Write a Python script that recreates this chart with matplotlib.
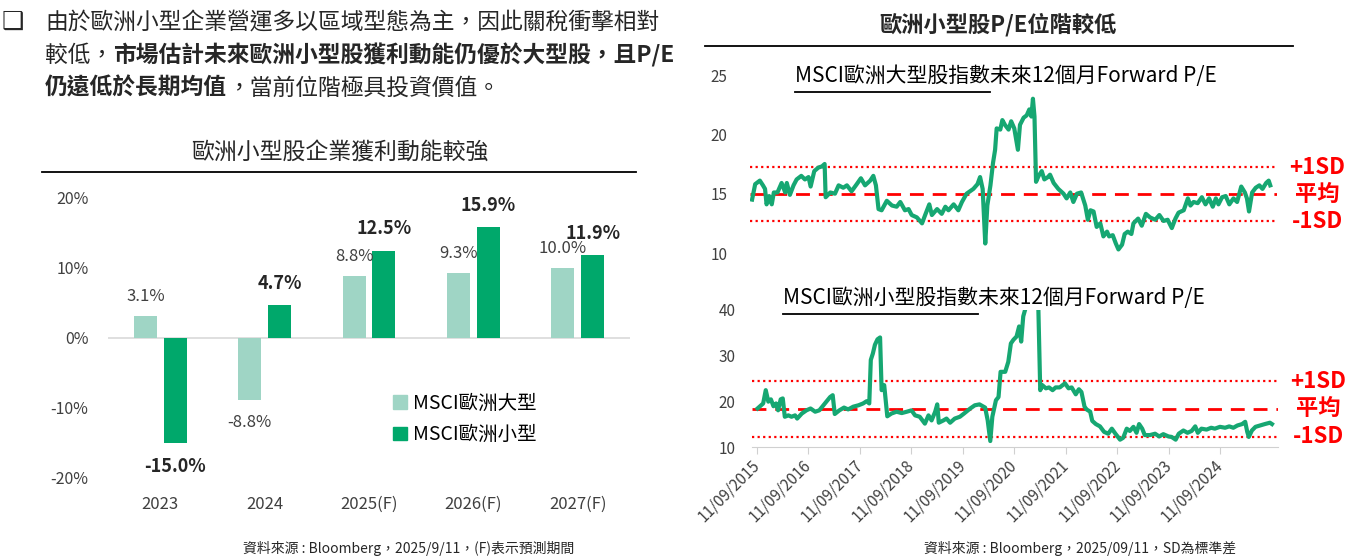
import matplotlib

matplotlib.use("Agg")
import matplotlib.pyplot as plt
from matplotlib.lines import Line2D
from matplotlib.patches import Patch
import matplotlib.transforms as mtransforms
import numpy as np

plt.rcParams["font.family"] = ["Noto Sans CJK TC", "DejaVu Sans"]

W, H = 1351, 559

# ---- left: earnings growth bars ----
years = ["2023", "2024", "2025(F)", "2026(F)", "2027(F)"]
large_growth = [3.1, -8.8, 8.8, 9.3, 10.0]
small_growth = [-15.0, 4.7, 12.5, 15.9, 11.9]
bar_ticks = [-20, -10, 0, 10, 20]

# ---- right: forward P/E (decimal years) ----
lg_t = [2015.69, 2015.75, 2015.84, 2015.90, 2015.94, 2015.97, 2016.02, 2016.07, 2016.11, 2016.18,
        2016.26, 2016.33, 2016.36, 2016.42, 2016.49, 2016.55, 2016.64, 2016.71, 2016.78, 2016.82,
        2016.89, 2016.97, 2017.04, 2017.09, 2017.11, 2017.20, 2017.29, 2017.36, 2017.45, 2017.52,
        2017.61, 2017.71, 2017.79, 2017.87, 2017.97, 2018.03, 2018.08, 2018.13, 2018.19, 2018.29,
        2018.39, 2018.48, 2018.55, 2018.64, 2018.71, 2018.77, 2018.87, 2018.97, 2019.03, 2019.11,
        2019.16, 2019.26, 2019.35, 2019.42, 2019.48, 2019.58, 2019.67, 2019.74, 2019.83, 2019.96,
        2020.04, 2020.09, 2020.14, 2020.19, 2020.23, 2020.29, 2020.34, 2020.38, 2020.41, 2020.48,
        2020.52,
        2020.57, 2020.64, 2020.69, 2020.75, 2020.82, 2020.86, 2020.93, 2020.99, 2021.04, 2021.08,
        2021.11, 2021.14, 2021.17, 2021.22, 2021.28, 2021.33, 2021.40, 2021.44, 2021.51, 2021.60,
        2021.70, 2021.76, 2021.83, 2021.89, 2021.96, 2022.04, 2022.12, 2022.17, 2022.22, 2022.28,
        2022.34, 2022.41, 2022.47, 2022.54, 2022.58, 2022.65, 2022.71, 2022.76, 2022.83, 2022.88,
        2022.94, 2023.01, 2023.05, 2023.14, 2023.21, 2023.29, 2023.37, 2023.47, 2023.55, 2023.63,
        2023.71, 2023.79, 2023.86, 2023.92, 2024.02, 2024.10, 2024.15, 2024.21, 2024.29, 2024.37,
        2024.44, 2024.51, 2024.58, 2024.64, 2024.69, 2024.76, 2024.83, 2024.90, 2024.98, 2025.05,
        2025.13, 2025.20, 2025.24, 2025.28, 2025.34, 2025.41, 2025.48, 2025.54, 2025.61, 2025.66,
        2025.69]
lg_pe = [14.5, 15.8, 16.1, 15.7, 15.4, 14.1, 14.8, 14.1, 15.1, 15.1,
         15.9, 15.1, 15.9, 14.9, 15.7, 16.2, 16.5, 16.2, 16.4, 15.6,
         16.9, 17.2, 17.3, 17.5, 14.7, 15.1, 15.0, 15.7, 15.5, 15.7,
         15.2, 15.8, 16.3, 15.7, 16.1, 16.5, 15.7, 13.7, 13.6, 14.4,
         14.0, 13.9, 14.3, 13.6, 13.7, 13.2, 13.0, 12.5, 13.2, 14.1,
         13.2, 13.7, 13.3, 13.9, 13.6, 14.1, 13.6, 14.3, 15.0, 15.4,
         15.8, 16.4, 15.4, 10.8, 14.0, 15.7, 17.6, 18.7, 20.5, 20.4,
         21.2,
         20.8, 20.4, 21.1, 20.5, 18.7, 20.8, 21.4, 21.6, 22.1, 21.5,
         23.0, 21.5, 16.0, 16.5, 16.9, 16.2, 16.4, 16.6, 15.9, 15.4,
         15.0, 14.6, 15.1, 14.3, 15.0, 15.1, 14.0, 12.8, 13.6, 13.5,
         12.2, 12.5, 11.4, 11.8, 11.4, 11.5, 10.8, 10.3, 10.7, 11.6,
         11.8, 11.6, 12.5, 12.9, 12.3, 13.3, 13.0, 12.8, 13.2, 12.7,
         12.8, 12.1, 12.9, 13.4, 13.6, 14.6, 14.0, 14.3, 14.2, 14.7,
         14.1, 14.6, 13.9, 14.6, 14.1, 14.7, 14.8, 14.1, 14.6, 14.3,
         15.6, 15.1, 14.6, 13.5, 15.1, 15.5, 15.7, 15.4, 15.9, 16.1,
         15.7]
lg_mean, lg_sd = 14.95, 2.28

sm_t = [2015.70, 2015.75, 2015.81, 2015.86, 2015.91, 2015.96, 2016.01, 2016.06, 2016.10, 2016.15,
        2016.19, 2016.23, 2016.30, 2016.36, 2016.43, 2016.47, 2016.56, 2016.65, 2016.73, 2016.82,
        2016.90, 2016.98, 2017.06, 2017.11, 2017.16, 2017.20, 2017.29, 2017.38, 2017.46, 2017.56,
        2017.66, 2017.75, 2017.82, 2017.87, 2017.90, 2017.94, 2017.98, 2018.03, 2018.08, 2018.11,
        2018.16, 2018.19, 2018.22, 2018.30, 2018.40, 2018.50, 2018.60, 2018.69, 2018.76, 2018.85,
        2018.95, 2019.02, 2019.08, 2019.15, 2019.19, 2019.22, 2019.31, 2019.37, 2019.44, 2019.53,
        2019.63, 2019.71, 2019.83, 2019.92, 2020.01, 2020.12, 2020.17, 2020.22, 2020.26, 2020.33,
        2020.38, 2020.42,
        2020.51, 2020.57, 2020.62, 2020.67, 2020.73, 2020.78, 2020.82, 2020.86, 2020.91, 2020.96,
        2021.03, 2021.10, 2021.15, 2021.19, 2021.23, 2021.30, 2021.36, 2021.43, 2021.49, 2021.57,
        2021.67, 2021.74, 2021.80, 2021.88, 2021.94, 2021.99, 2022.05, 2022.09, 2022.16, 2022.20,
        2022.27, 2022.35, 2022.43, 2022.51, 2022.58, 2022.65, 2022.74, 2022.80, 2022.87, 2022.93,
        2023.00, 2023.06, 2023.11, 2023.17, 2023.22, 2023.32, 2023.42, 2023.50, 2023.58, 2023.68,
        2023.74, 2023.82, 2023.88, 2023.97, 2024.05, 2024.13, 2024.20, 2024.25, 2024.32, 2024.42,
        2024.51, 2024.58, 2024.68, 2024.78, 2024.86, 2024.94, 2025.02, 2025.11, 2025.17, 2025.21,
        2025.24, 2025.30, 2025.37, 2025.46, 2025.55, 2025.65, 2025.69]
sm_pe = [18.4, 18.9, 19.5, 22.4, 19.9, 20.4, 18.9, 19.5, 18.0, 20.4,
         20.6, 16.6, 16.9, 16.6, 16.9, 16.2, 17.3, 18.0, 18.4, 17.7,
         18.0, 19.1, 20.2, 20.9, 21.3, 17.2, 18.0, 18.6, 18.2, 18.8,
         19.1, 19.5, 20.0, 19.5, 29.0, 30.4, 32.3, 33.5, 33.9, 22.4,
         23.5, 20.2, 16.7, 17.3, 17.7, 17.4, 17.7, 18.0, 16.9, 16.6,
         15.1, 16.9, 15.8, 17.7, 19.3, 15.3, 15.8, 16.2, 15.3, 16.2,
         16.6, 17.3, 18.4, 19.1, 19.3, 18.6, 15.8, 11.3, 16.6, 20.2,
         20.9, 26.4,
         26.4, 28.6, 32.6, 33.4, 34.1, 36.3, 33.0, 38.5, 40.5, 43.0,
         45.0, 44.0, 42.0, 22.4, 23.5, 22.8, 23.0, 22.4, 23.0, 23.0,
         23.9, 22.8, 23.0, 21.5, 22.6, 22.0, 18.8, 18.2, 17.7, 15.7,
         15.0, 14.5, 13.3, 12.9, 14.0, 12.9, 11.6, 12.0, 14.0, 13.5,
         14.4, 13.1, 15.0, 14.0, 12.6, 12.6, 12.9, 12.3, 12.8, 12.3,
         12.2, 11.6, 12.9, 13.6, 13.1, 13.5, 14.5, 13.1, 14.0, 13.8,
         14.2, 14.0, 14.4, 14.2, 14.5, 14.2, 14.7, 15.0, 15.5, 13.3,
         12.2, 13.6, 14.4, 14.7, 15.0, 15.3, 15.0]
sm_mean, sm_sd = 18.3, 6.1

tick_years = list(range(2015, 2025))
DATE_FRAC = 0.69  # 11 Sep as a fraction of the year

LIGHT = "#9fd5c5"
DARK = "#00a86b"
LINE = "#16a772"
RED = "#ff0000"
TXT = "#262626"
GREY = "#404040"


def fx(x):
    return x / W


def fy(y):
    return 1 - y / H


def hline(fig, x0, x1, y, lw=1.3):
    fig.add_artist(Line2D([fx(x0), fx(x1)], [fy(y), fy(y)], color="black", lw=lw))


def put_runs(fig, x, y, runs, size):
    r = fig.canvas.get_renderer()
    for s, w in runs:
        t = fig.text(fx(x), fy(y), s, fontsize=size, fontweight=w, color=TXT,
                     ha="left", va="center")
        x += t.get_window_extent(r).width


fig = plt.figure(figsize=(W / 100, H / 100), dpi=100)

# ---- paragraph ----
fig.text(fx(13), fy(22), "❑", fontsize=18, color=TXT, ha="center", va="center",
         family=["DejaVu Sans"])
put_runs(fig, 45, 22, [("由於歐洲小型企業營運多以區域型態為主，因此關稅衝擊相對", "normal")], 16.4)
put_runs(fig, 45, 55, [("較低，", "normal"),
                       ("市場估計未來歐洲小型股獲利動能仍優於大型股，且P/E", "bold")], 16.4)
put_runs(fig, 45, 88, [("仍遠低於長期均值", "bold"), ("，當前位階極具投資價值。", "normal")], 16.4)

# ---- bar chart ----
fig.text(fx(340), fy(152), "歐洲小型股企業獲利動能較強", fontsize=16.5, color=TXT,
         ha="center", va="center")
hline(fig, 42, 636, 172)

axb = fig.add_axes([fx(108), fy(478), fx(630) - fx(108), fy(198) - fy(478)])
x = np.arange(len(years))
bw, off = 0.22, 0.142
axb.bar(x - off, large_growth, bw, color=LIGHT, zorder=2)
axb.bar(x + off, small_growth, bw, color=DARK, zorder=2)
axb.axhline(0, color="#d9d9d9", lw=1.2, zorder=1)
axb.set_xlim(-0.5, len(years) - 0.5)
axb.set_ylim(-20, 20)
axb.set_yticks(bar_ticks)
axb.set_yticklabels([f"{v}%" for v in bar_ticks])
axb.set_xticks(x)
axb.set_xticklabels(years)
axb.tick_params(axis="y", length=0, pad=14, labelsize=11.5, labelcolor=GREY)
axb.tick_params(axis="x", length=0, pad=13, labelsize=12, labelcolor=GREY)
for s in axb.spines.values():
    s.set_visible(False)
for xi, v in zip(x - off, large_growth):
    axb.annotate(f"{v:.1f}%", (xi, v), xytext=(0, 14 if v > 0 else -16.5),
                 textcoords="offset points", ha="center", va="center",
                 fontsize=12, color=GREY)
for xi, v in zip(x + off, small_growth):
    axb.annotate(f"{v:.1f}%", (xi, v), xytext=(0, 15.5 if v > 0 else -17),
                 textcoords="offset points", ha="center", va="center",
                 fontsize=13, fontweight="bold", color=TXT)
axb.legend([Patch(color=LIGHT), Patch(color=DARK)], ["MSCI歐洲大型", "MSCI歐洲小型"],
           loc="center left", bbox_to_anchor=(fx(393), fy(419)),
           bbox_transform=fig.transFigure, frameon=False, fontsize=14,
           handlelength=0.7, handleheight=0.7, handletextpad=0.35,
           labelspacing=0.55, borderpad=0, borderaxespad=0)

fig.text(fx(409), fy(548), "資料來源 : Bloomberg，2025/9/11，(F)表示預測期間",
         fontsize=10, color=TXT, ha="center", va="center")

# ---- right side ----
fig.text(fx(998), fy(25), "歐洲小型股P/E位階較低", fontsize=16, fontweight="bold",
         color=TXT, ha="center", va="center")
hline(fig, 705, 1293, 46)


def pe_panel(rect, t, pe, mean, sd, ylim, yticks, xlim, pad):
    ax = fig.add_axes(rect)
    ax.plot(t, pe, color=LINE, lw=3, solid_joinstyle="round", zorder=3)
    ax.axhline(mean, color=RED, lw=2, ls=(0, (5, 3.2)), zorder=2)
    for lvl in (mean + sd, mean - sd):
        ax.axhline(lvl, color=RED, lw=1.6, ls=(0, (1, 1.5)), zorder=2)
    ax.set_xlim(*xlim)
    ax.set_ylim(*ylim)
    ax.set_yticks(yticks)
    ax.tick_params(axis="y", length=0, pad=pad, labelsize=11, labelcolor=GREY)
    for s in ax.spines.values():
        s.set_visible(False)
    tr = mtransforms.blended_transform_factory(ax.transAxes, ax.transData)
    for lvl, lab in ((mean + sd, "+1SD"), (mean, "平均"), (mean - sd, "-1SD")):
        ax.text(1.077, lvl, lab, transform=tr, color=RED, fontsize=16,
                fontweight="bold", ha="center", va="center")
    return ax


axt = pe_panel([fx(750), fy(253), fx(1277) - fx(750), fy(75) - fy(253)],
               lg_t, lg_pe, lg_mean, lg_sd, (10, 25), [10, 15, 20, 25],
               (2015.65, 2025.82), 16)
axt.set_xticks([])

axs = pe_panel([fx(752), fy(447), fx(1278) - fx(752), fy(309.5) - fy(447)],
               sm_t, sm_pe, sm_mean, sm_sd, (10, 40), [10, 20, 30, 40],
               (2015.593, 2025.807), 12)
axs.spines["bottom"].set_visible(True)
axs.spines["bottom"].set_color("#d0d0d0")
axs.set_xticks([yr + DATE_FRAC for yr in tick_years])
axs.set_xticklabels([f"11/09/{yr}" for yr in tick_years], rotation=45, ha="right",
                    va="center", rotation_mode="anchor")
axs.tick_params(axis="x", length=5, color="#d0d0d0", pad=6, labelsize=11,
                labelcolor=GREY)

fig.text(fx(795), fy(76), "MSCI歐洲大型股指數未來12個月Forward P/E", fontsize=15,
         color="black", ha="left", va="center")
hline(fig, 795, 990, 92)
fig.text(fx(783), fy(298), "MSCI歐洲小型股指數未來12個月Forward P/E", fontsize=15,
         color="black", ha="left", va="center")
hline(fig, 783, 978, 314)

fig.text(fx(1080), fy(548), "資料來源 : Bloomberg，2025/09/11，SD為標準差",
         fontsize=10, color=TXT, ha="center", va="center")

fig.savefig("out.png", dpi=100)
